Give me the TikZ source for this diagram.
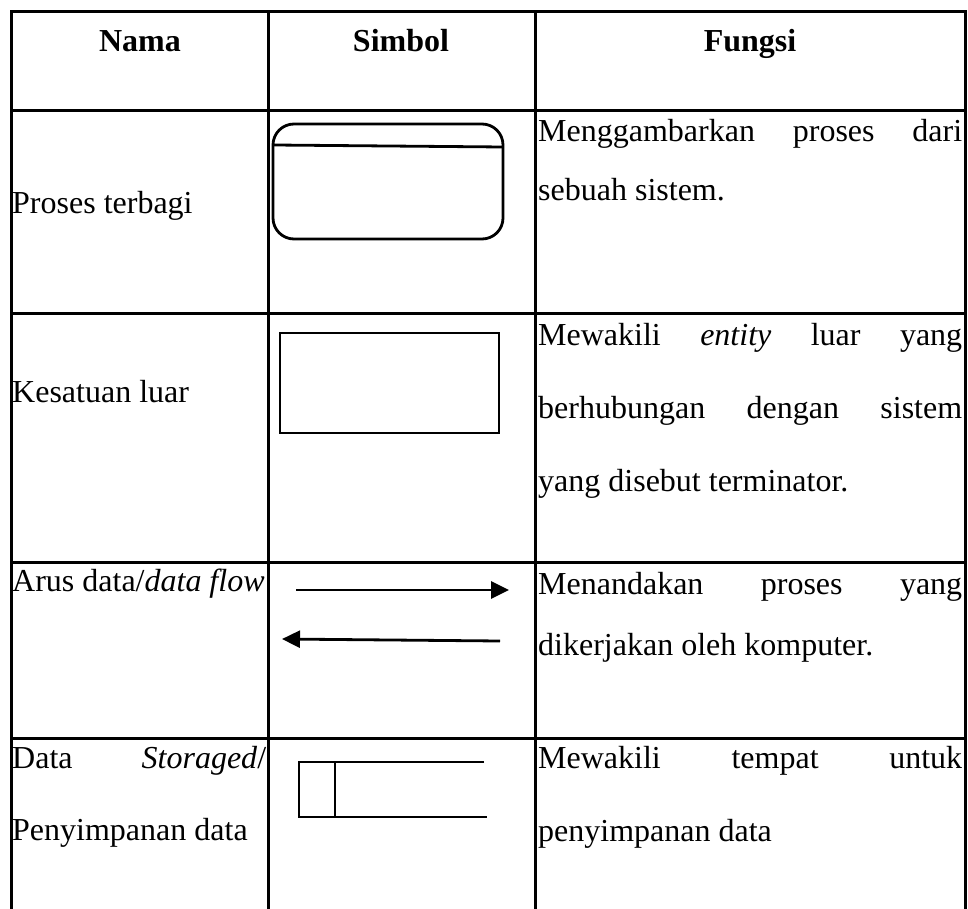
\documentclass[tikz,border=0pt]{standalone}
\usepackage{fontspec}
\setmainfont{Liberation Serif}
\usetikzlibrary{arrows.meta}
\begin{document}
\begin{tikzpicture}[x=1pt,y=-1pt,
  grid/.style={line width=3pt, line cap=rect},
  shp/.style={line width=2.8pt},
  txt/.style={inner sep=0pt, anchor=base west, font=\fontsize{32}{38}\selectfont},
  hdr/.style={inner sep=0pt, anchor=base, font=\fontsize{32}{38}\selectfont\bfseries},
  flow/.style={shp, -{Triangle[length=18pt,width=17pt]}}]
\useasboundingbox (0,0) rectangle (968,909);
% table grid
\draw[grid] (11,12) -- (965,12);
\draw[grid] (11,111) -- (965,111);
\draw[grid] (11,313) -- (965,313);
\draw[grid] (11,562) -- (965,562);
\draw[grid] (11,738) -- (965,738);
\draw[grid] (11,12) -- (11,909);
\draw[grid] (268,12) -- (268,909);
\draw[grid] (535,12) -- (535,909);
\draw[grid] (965,12) -- (965,909);
% header
\node[hdr] (hNama) at (140,52) {Nama};
\node[hdr] (hSimbol) at (401,52) {Simbol};
\node[hdr] (hFungsi) at (750,52) {Fungsi};
% row 1: proses terbagi
\node[txt] (n1) at (12,214) {Proses terbagi};
\draw[shp, rounded corners=21pt] (273,124) rectangle (503,239);
\draw[shp] (274,145) -- (503,147);
\node[txt] (f1a) at (538,142) {\hbox to 424pt{Menggambarkan\hfill proses\hfill dari}};
\node[txt] (f1b) at (538,201) {sebuah sistem.};
% row 2: kesatuan luar
\node[txt] (n2) at (12,402) {Kesatuan luar};
\draw[shp] (280,333) rectangle (499,433);
\node[txt] (f2a) at (538,345) {\hbox to 424pt{Mewakili\hfill \textit{entity}\hfill luar\hfill yang}};
\node[txt] (f2b) at (538,418) {\hbox to 424pt{berhubungan\hfill dengan\hfill sistem}};
\node[txt] (f2c) at (538,491) {yang disebut terminator.};
% row 3: arus data
\node[txt] (n3) at (12,591) {Arus data/\textit{data flow}};
\coordinate (a1s) at (296,590);
\coordinate (a1e) at (509,590);
\coordinate (a2s) at (500,641);
\coordinate (a2e) at (282,639);
\draw[flow] (a1s) -- (a1e);
\draw[flow] (a2s) -- (a2e);
\node[txt] (f3a) at (538,594) {\hbox to 424pt{Menandakan\hfill proses\hfill yang}};
\node[txt] (f3b) at (538,655) {dikerjakan oleh komputer.};
% row 4: data storage
\node[txt] (n4a) at (12,768) {\hbox to 254pt{Data\hfill \textit{Storaged}/}};
\node[txt] (n4b) at (12,840) {Penyimpanan data};
\draw[shp] (484,762) -- (299,762) -- (299,817) -- (487,817);
\draw[shp] (335,762) -- (335,817);
\node[txt] (f4a) at (538,768) {\hbox to 424pt{Mewakili\hfill tempat\hfill untuk}};
\node[txt] (f4b) at (538,841) {penyimpanan data};
\end{tikzpicture}
\end{document}
